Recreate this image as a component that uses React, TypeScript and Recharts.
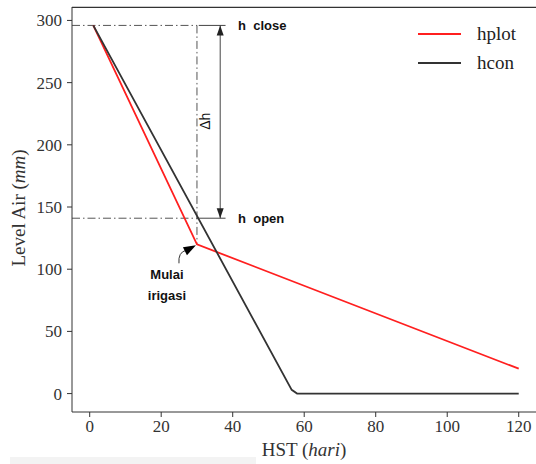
import { LineChart, Line, XAxis, YAxis, ReferenceLine, ReferenceDot } from "recharts";

// hplot: simulated level with irrigation start
const hplotDays = [1, 30, 120];
const hplotLevel = [296, 120, 20];
// hcon: conventional drawdown
const hconDays = [1, 56.5, 58, 120];
const hconLevel = [296, 3, 0, 0];

const xTicks = [0, 20, 40, 60, 80, 100, 120];
const yTicks = [0, 50, 100, 150, 200, 250, 300];

const seriesNames = ["hplot", "hcon"];
const seriesColors = ["#ff1f1f", "#333333"];

// annotation values (data units)
const H_CLOSE = 296;
const H_OPEN = 141;
const KINK_X = 30;
const KINK_Y = 120;
const ARROW_X = 36.5;
const LINE_END = 38;
const TEXT_X = 41.5;

const X_MIN = -4.95;
const X_MAX = 125.95;
const Y_MIN = -14.8;
const Y_MAX = 310.8;

const hplotData = hplotDays.map((d, i) => ({ x: d, y: hplotLevel[i] }));
const hconData = hconDays.map((d, i) => ({ x: d, y: hconLevel[i] }));

const serif = '"Liberation Serif", "DejaVu Serif", serif';
const sans = '"Liberation Sans", Arial, sans-serif';
const dashDot = "8 3 1.5 3";

function AnnoText({ cx, cy, text, dx = 0 }: any) {
  return (
    <text x={cx + dx} y={cy} dominantBaseline="central" fontFamily={sans} fontWeight="bold" fontSize={13} fill="#111" style={{ whiteSpace: "pre" }}>
      {text}
    </text>
  );
}

function Arrowhead({ cx, cy, up }: any) {
  const d = up ? `M${cx},${cy} L${cx - 3.5},${cy + 10} L${cx + 3.5},${cy + 10} Z` : `M${cx},${cy} L${cx - 3.5},${cy - 10} L${cx + 3.5},${cy - 10} Z`;
  return <path d={d} fill="#222" />;
}

function DeltaLabel({ cx, cy }: any) {
  return (
    <text x={cx} y={cy} transform={`rotate(-90 ${cx} ${cy})`} textAnchor="middle" dominantBaseline="central" fontFamily={sans} fontSize={14} fill="#111">
      Δh
    </text>
  );
}

function StartMarker({ cx, cy }: any) {
  return (
    <g>
      <path d={`M${cx - 18},${cy + 19} Q${cx - 19},${cy + 8} ${cx - 11},${cy + 6}`} stroke="#333" strokeWidth={1} fill="none" />
      <path d={`M${cx - 1},${cy + 1} L${cx - 14},${cy + 3} L${cx - 10},${cy + 11} Z`} fill="#000" />
      <text x={cx - 30} y={cy + 35} textAnchor="middle" fontFamily={sans} fontWeight="bold" fontSize={13} fill="#111">Mulai</text>
      <text x={cx - 30} y={cy + 56} textAnchor="middle" fontFamily={sans} fontWeight="bold" fontSize={13} fill="#111">irigasi</text>
    </g>
  );
}

function LegendBox() {
  return (
    <div style={{ position: "absolute", left: 418, top: 19, fontFamily: serif, fontSize: 19, color: "#222" }}>
      {seriesNames.map((n, i) => (
        <div key={n} style={{ display: "flex", alignItems: "center", height: 29 }}>
          <svg width={59} height={10}>
            <line x1={0} y1={5} x2={43} y2={5} stroke={seriesColors[i]} strokeWidth={2} />
          </svg>
          <span>{n}</span>
        </div>
      ))}
    </div>
  );
}

export default function App() {
  return (
    <div style={{ position: "absolute", left: 0, top: 0, width: 536, height: 464, overflow: "hidden", background: "#fff" }}>
      <LineChart width={560} height={464} margin={{ top: 7, right: 20, bottom: 0, left: 0 }}>
        <XAxis
          dataKey="x"
          type="number"
          domain={[X_MIN, X_MAX]}
          allowDataOverflow
          ticks={xTicks}
          height={52}
          stroke="#333"
          tickSize={5}
          tickMargin={3}
          tick={{ fill: "#333", fontSize: 17, fontFamily: serif }}
        />
        <YAxis
          dataKey="y"
          type="number"
          domain={[Y_MIN, Y_MAX]}
          allowDataOverflow
          ticks={yTicks}
          width={72}
          stroke="#333"
          tickSize={5}
          tickMargin={5}
          tick={{ fill: "#333", fontSize: 17, fontFamily: serif }}
        />

        {/* top spine of the axes frame */}
        <ReferenceLine segment={[{ x: X_MIN, y: Y_MAX - 0.3 }, { x: X_MAX, y: Y_MAX - 0.3 }]} stroke="#333" strokeWidth={1.2} />

        {/* h close / h open guides */}
        <ReferenceLine segment={[{ x: X_MIN, y: H_CLOSE }, { x: KINK_X, y: H_CLOSE }]} stroke="#555" strokeDasharray={dashDot} />
        <ReferenceLine segment={[{ x: KINK_X + 0.5, y: H_CLOSE }, { x: LINE_END, y: H_CLOSE }]} stroke="#444" />
        <ReferenceLine segment={[{ x: X_MIN, y: H_OPEN }, { x: KINK_X, y: H_OPEN }]} stroke="#555" strokeDasharray={dashDot} />
        <ReferenceLine segment={[{ x: KINK_X, y: H_OPEN }, { x: LINE_END, y: H_OPEN }]} stroke="#444" />
        <ReferenceLine segment={[{ x: KINK_X, y: H_CLOSE }, { x: KINK_X, y: KINK_Y }]} stroke="#555" strokeDasharray={dashDot} />
        <ReferenceLine segment={[{ x: ARROW_X, y: H_CLOSE }, { x: ARROW_X, y: H_OPEN }]} stroke="#444" />

        <Line data={hplotData} dataKey="y" name="hplot" stroke={seriesColors[0]} strokeWidth={1.8} dot={false} isAnimationActive={false} />
        <Line data={hconData} dataKey="y" name="hcon" stroke={seriesColors[1]} strokeWidth={1.8} dot={false} isAnimationActive={false} />

        <ReferenceDot x={ARROW_X} y={H_CLOSE} r={0} shape={(p: any) => <Arrowhead {...p} up />} />
        <ReferenceDot x={ARROW_X} y={H_OPEN} r={0} shape={(p: any) => <Arrowhead {...p} />} />
        <ReferenceDot x={TEXT_X} y={H_CLOSE} r={0} shape={(p: any) => <AnnoText {...p} text="h  close" />} />
        <ReferenceDot x={TEXT_X} y={H_OPEN} r={0} shape={(p: any) => <AnnoText {...p} text="h  open" />} />
        <ReferenceDot x={32.3} y={219} r={0} shape={(p: any) => <DeltaLabel {...p} />} />
        <ReferenceDot x={KINK_X} y={KINK_Y} r={0} shape={(p: any) => <StartMarker {...p} />} />
      </LineChart>

      <LegendBox />
      <div style={{ position: "absolute", left: 19, top: 208, transform: "translate(-50%, -50%) rotate(-90deg)", whiteSpace: "nowrap", fontFamily: serif, fontSize: 19, color: "#333" }}>
        Level Air (<i>mm</i>)
      </div>
      <div style={{ position: "absolute", left: 304, top: 450, transform: "translate(-50%, -50%)", whiteSpace: "nowrap", fontFamily: serif, fontSize: 19, color: "#333" }}>
        HST (<i>hari</i>)
      </div>
      <div style={{ position: "absolute", left: 10, top: 457, width: 246, height: 7, background: "#f3f3f3" }} />
    </div>
  );
}
